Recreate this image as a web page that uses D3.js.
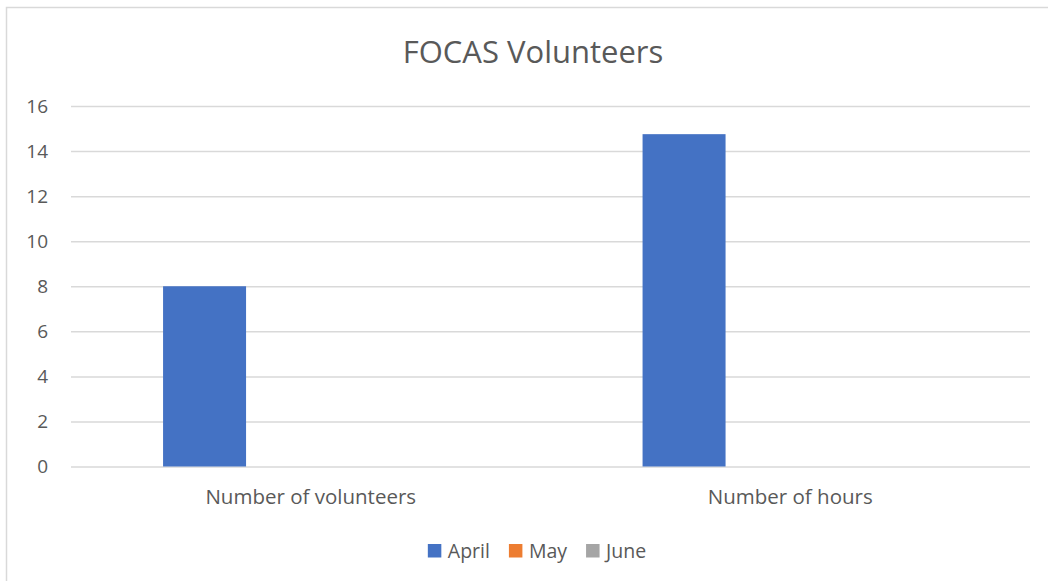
<!DOCTYPE html>
<html>
<head>
<meta charset="utf-8">
<script src="https://cdn.jsdelivr.net/npm/d3@7"></script>
<style>
  html, body { margin: 0; padding: 0; background: #fff; }
  svg { display: block; font-family: "Open Sans", sans-serif; }
</style>
</head>
<body>
<div id="chart"></div>
<script>
const categories = ["Number of volunteers", "Number of hours"];
const seriesNames = ["April", "May", "June"];
const april = [8, 14.75];
const may = [0, 0];
const june = [0, 0];
const yTicks = [0, 2, 4, 6, 8, 10, 12, 14, 16];
const colors = ["#4472c4", "#ed7d31", "#a5a5a5"];

const W = 1048, H = 581;
const plotLeft = 71, plotRight = 1030, plotTop = 106, plotBottom = 466.5;

const seriesValues = [april, may, june];

const svg = d3.select("#chart").append("svg")
  .attr("width", W)
  .attr("height", H);

// chart border (runs off the right and bottom edges)
svg.append("rect")
  .attr("x", 6.5).attr("y", 7.5)
  .attr("width", W + 20).attr("height", H + 20)
  .attr("fill", "#fff")
  .attr("stroke", "#d9d9d9")
  .attr("stroke-width", 1.5);

// title
svg.append("text")
  .attr("x", 533).attr("y", 63)
  .attr("text-anchor", "middle")
  .attr("font-size", 31)
  .attr("fill", "#595959")
  .text("FOCAS Volunteers");

const y = d3.scaleLinear().domain([0, 16]).range([plotBottom, plotTop]);

const x0 = d3.scaleBand()
  .domain(categories)
  .range([plotLeft, plotRight])
  .paddingInner(0.384)
  .paddingOuter(0.192);

const x1 = d3.scaleBand()
  .domain(seriesNames)
  .range([0, x0.bandwidth()])
  .paddingInner(0.2185);

// y axis + gridlines
const yaxis = d3.axisLeft(y)
  .tickValues(yTicks)
  .tickSize(-(plotRight - plotLeft))
  .tickPadding(23);

const gy = svg.append("g")
  .attr("transform", "translate(" + plotLeft + ",0)")
  .call(yaxis);
gy.select(".domain").remove();
gy.selectAll(".tick line").attr("stroke", "#d9d9d9").attr("stroke-width", 1.5);
gy.selectAll(".tick text")
  .attr("font-size", 19)
  .attr("font-family", "Open Sans, sans-serif")
  .attr("fill", "#595959");

// bars
const rows = categories.map((c, i) => ({
  cat: c,
  vals: seriesNames.map((s, j) => ({ name: s, value: seriesValues[j][i], color: colors[j] }))
}));

svg.append("g")
  .selectAll("g")
  .data(rows)
  .enter()
  .append("g")
  .attr("transform", d => "translate(" + x0(d.cat) + ",0)")
  .selectAll("rect")
  .data(d => d.vals)
  .enter()
  .append("rect")
  .attr("x", d => x1(d.name))
  .attr("y", d => y(d.value))
  .attr("width", x1.bandwidth())
  .attr("height", d => y(0) - y(d.value))
  .attr("fill", d => d.color);

// x axis labels
const xaxis = d3.axisBottom(x0).tickSize(0).tickPadding(23);
const gx = svg.append("g")
  .attr("transform", "translate(0," + plotBottom + ")")
  .call(xaxis);
gx.select(".domain").remove();
gx.selectAll(".tick text")
  .attr("font-size", 20.5)
  .attr("font-family", "Open Sans, sans-serif")
  .attr("fill", "#595959");

// legend
const legend = svg.append("g");
let lx = 0;
seriesNames.forEach((s, i) => {
  const item = legend.append("g").attr("transform", "translate(" + lx + ",0)");
  item.append("rect")
    .attr("x", 0).attr("y", 544)
    .attr("width", 13.5).attr("height", 13.5)
    .attr("fill", colors[i]);
  const t = item.append("text")
    .attr("x", 20).attr("y", 558)
    .attr("font-size", 19.5)
    .attr("fill", "#595959")
    .text(s);
  lx += 20 + t.node().getComputedTextLength() + 19;
});
const legendWidth = lx - 19;
legend.attr("transform", "translate(" + (537 - legendWidth / 2) + ",0)");
</script>
</body>
</html>
